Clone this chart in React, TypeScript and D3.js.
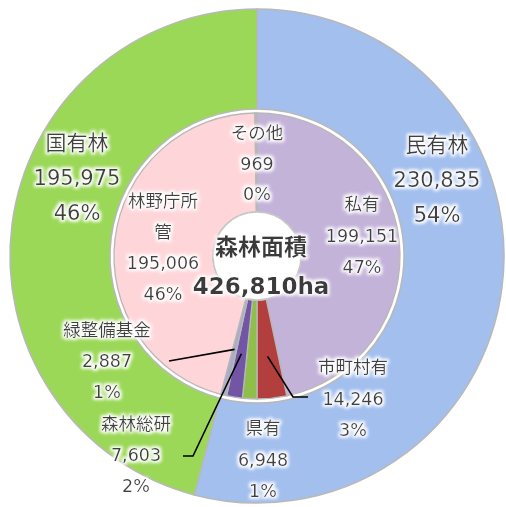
import React from 'react';
import * as d3 from 'd3';

// ---- data ----
const outerNames = ['民有林', '国有林'];
const outerValues = [230835, 195975];
const outerPercents = ['54%', '46%'];

const innerNames = ['私有', '市町村有', '県有', '森林総研', '緑整備基金', '林野庁所管', 'その他'];
const innerValues = [199151, 14246, 6948, 7603, 2887, 195006, 969];
const innerPercents = ['47%', '3%', '1%', '2%', '1%', '46%', '0%'];

const centerTitle = '森林面積';
const centerTotal = '426,810ha';

// ---- styles / layout ----
const outerColors = ['#a3bfee', '#9bd857'];
const innerColors = ['#c4b3d9', '#b23f3e', '#8fbf4a', '#7256a5', '#a9adc6', '#fed6da', '#b9b9c4'];

const W = 506, H = 507;
const cx = 257, cy = 256;
const R_OUT = 247, R_OUT_IN = 147, R_IN = 143, R_HOLE = 44;

// label anchor (center x, first-line center y, line step, font size, wrap)
const outerLabelPos = [
  { x: 437, y: 145, step: 35, fs: 21 },
  { x: 77, y: 143, step: 35, fs: 21 },
];
const innerLabelPos = [
  { x: 362, y: 204, step: 31.5, fs: 17.5, wrap: 4 },
  { x: 353, y: 367, step: 31.5, fs: 17.5, wrap: 4 },
  { x: 263, y: 428, step: 31.5, fs: 17.5, wrap: 4 },
  { x: 136, y: 424, step: 31, fs: 17.5, wrap: 5 },
  { x: 107, y: 330, step: 31, fs: 17.5, wrap: 5 },
  { x: 163, y: 201, step: 31, fs: 17.5, wrap: 4 },
  { x: 257, y: 133, step: 30.5, fs: 17.5, wrap: 4 },
];
// leader lines: index -> path points on label side (slice end computed from data)
const leaders: Record<number, { pts: [number, number][]; r: number; side: 'start' | 'end' }> = {
  1: { pts: [[293, 397], [308, 397]], r: 101, side: 'start' },
  3: { pts: [[183, 456], [193, 456]], r: 99, side: 'end' },
  4: { pts: [[169, 361]], r: 96, side: 'end' },
};

const fmt = d3.format(',');
const FONT = "'DejaVu Sans', 'Noto Sans CJK JP', sans-serif";

function wrapName(name: string, n: number) {
  const out: string[] = [];
  for (let i = 0; i < name.length; i += n) out.push(name.slice(i, i + n));
  return out;
}

export default function App() {
  const pie = d3.pie<number>().sort(null).value((d) => d);
  const outerArcs = pie(outerValues);
  const innerArcs = pie(innerValues);
  const outerArc = d3.arc<d3.PieArcDatum<number>>().innerRadius(R_OUT_IN).outerRadius(R_OUT);
  const innerArc = d3.arc<d3.PieArcDatum<number>>().innerRadius(R_HOLE).outerRadius(R_IN);

  const pt = (a: number, r: number): [number, number] => [cx + r * Math.sin(a), cy - r * Math.cos(a)];

  const labelLines = (lines: string[], p: { x: number; y: number; step: number; fs: number }, key: string) =>
    lines.map((t, i) => (
      <text key={key + i} x={p.x} y={p.y + i * p.step} textAnchor="middle" dominantBaseline="central"
        fontSize={p.fs} fill="#404040" fontFamily={FONT} filter="url(#glow)">{t}</text>
    ));

  return (
    <svg width={W} height={H} style={{ position: 'absolute', left: 0, top: 0, background: '#fff' }}>
      <defs>
        <filter id="glow" x="-20%" y="-40%" width="140%" height="180%">
          <feMorphology in="SourceAlpha" operator="dilate" radius="1.6" result="d" />
          <feGaussianBlur in="d" stdDeviation="1.6" result="b" />
          <feFlood floodColor="#ffffff" floodOpacity="0.95" />
          <feComposite in2="b" operator="in" result="g" />
          <feMerge>
            <feMergeNode in="g" />
            <feMergeNode in="SourceGraphic" />
          </feMerge>
        </filter>
        <radialGradient id="bevelOuter" cx={cx} cy={cy} r={R_OUT} gradientUnits="userSpaceOnUse">
          <stop offset={R_OUT_IN / R_OUT} stopColor="#fff" stopOpacity="0.35" />
          <stop offset={(R_OUT_IN + 8) / R_OUT} stopColor="#fff" stopOpacity="0" />
          <stop offset={(R_OUT - 8) / R_OUT} stopColor="#000" stopOpacity="0" />
          <stop offset={1} stopColor="#000" stopOpacity="0.12" />
        </radialGradient>
        <radialGradient id="bevelInner" cx={cx} cy={cy} r={R_IN} gradientUnits="userSpaceOnUse">
          <stop offset={R_HOLE / R_IN} stopColor="#fff" stopOpacity="0.35" />
          <stop offset={(R_HOLE + 8) / R_IN} stopColor="#fff" stopOpacity="0" />
          <stop offset={(R_IN - 8) / R_IN} stopColor="#000" stopOpacity="0" />
          <stop offset={1} stopColor="#000" stopOpacity="0.1" />
        </radialGradient>
      </defs>

      <g transform={`translate(${cx},${cy})`}>
        {outerArcs.map((a, i) => (
          <g key={'o' + i}>
            <path d={outerArc(a) || ''} fill={outerColors[i]} stroke="#b8b8b8" strokeWidth={1.5} />
            <path d={outerArc(a) || ''} fill="url(#bevelOuter)" transform={`translate(${-cx},${-cy})`} style={{ display: 'none' }} />
          </g>
        ))}
        {innerArcs.map((a, i) => (
          <path key={'i' + i} d={innerArc(a) || ''} fill={innerColors[i]} stroke="#b8b8b8" strokeWidth={1.3} />
        ))}
        <circle r={R_HOLE} fill="#fff" stroke="#c8c8c8" strokeWidth={1.5} />
      </g>

      {/* leader lines */}
      {Object.entries(leaders).map(([k, L]) => {
        const a = innerArcs[+k];
        const mid = (a.startAngle + a.endAngle) / 2;
        const s = pt(mid, L.r);
        const pts = L.side === 'start' ? [s, ...L.pts] : [...L.pts, s];
        return <polyline key={'l' + k} points={pts.map((p) => p.join(',')).join(' ')} fill="none" stroke="#000" strokeWidth={1.6} />;
      })}

      {/* outer labels */}
      {outerNames.map((n, i) => labelLines([n, fmt(outerValues[i]), outerPercents[i]], outerLabelPos[i], 'ol' + i))}
      {/* inner labels */}
      {innerNames.map((n, i) =>
        labelLines([...wrapName(n, innerLabelPos[i].wrap), fmt(innerValues[i]), innerPercents[i]], innerLabelPos[i], 'il' + i)
      )}

      {/* center */}
      <text x={261} y={247} textAnchor="middle" dominantBaseline="central" fontSize={23} fontWeight="bold"
        fill="#3a3a3a" fontFamily={FONT} filter="url(#glow)">{centerTitle}</text>
      <text x={261} y={286} textAnchor="middle" dominantBaseline="central" fontSize={23} fontWeight="bold"
        fill="#3a3a3a" fontFamily={FONT} filter="url(#glow)">{centerTotal}</text>
    </svg>
  );
}
